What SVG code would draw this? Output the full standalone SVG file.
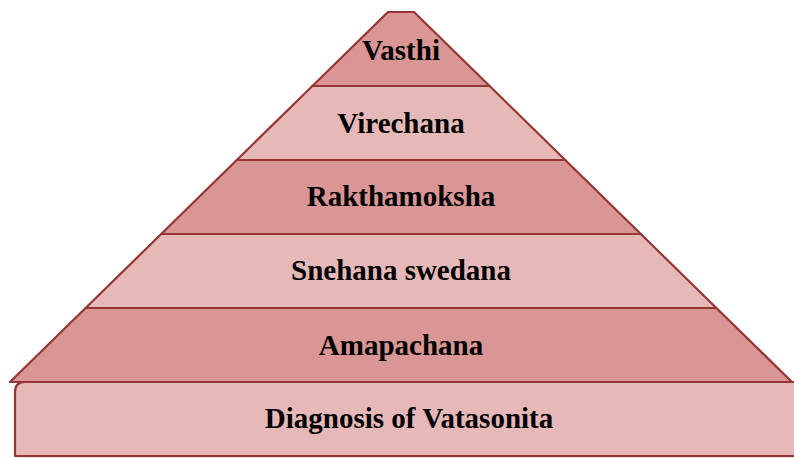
<svg xmlns="http://www.w3.org/2000/svg" width="794" height="458" viewBox="0 0 794 458">
<style>
.dark{fill:#D99694;stroke:#943634;stroke-width:2.2;stroke-linejoin:round}
.light{fill:#E6B9B8;stroke:#943634;stroke-width:2.2;stroke-linejoin:round}
text{font-family:"Liberation Serif","Times New Roman",serif;font-weight:bold;font-size:29px;fill:#000;text-anchor:middle}
</style>
<rect width="794" height="458" fill="#fff"/>
<g id="amapachana">
<polygon class="dark" points="85.6,308 716.4,308 792,382 10,382"/>
<text x="401" y="355">Amapachana</text>
</g>
<g id="snehana-swedana">
<polygon class="light" points="161.2,234 640.8,234 716.4,308 85.6,308"/>
<text x="401" y="280">Snehana swedana</text>
</g>
<g id="rakthamoksha">
<polygon class="dark" points="236.8,160 565.2,160 640.8,234 161.2,234"/>
<text x="401" y="206">Rakthamoksha</text>
</g>
<g id="virechana">
<polygon class="light" points="312.4,86 489.6,86 565.2,160 236.8,160"/>
<text x="401" y="133">Virechana</text>
</g>
<g id="vasthi">
<polygon class="dark" points="388,12 414,12 489.6,86 312.4,86"/>
<text x="401" y="60">Vasthi</text>
</g>
<g id="diagnosis">
<path d="M17,394 Q17,384 27,384 L807,384 L807,458 L17,458 Z" fill="#000" opacity="0.12"/>
<path class="light" d="M15,392 Q15,382 25,382 L805,382 L805,456 L15,456 Z"/>
<text x="409" y="428">Diagnosis of Vatasonita</text>
</g>
<g id="connectors"/>
</svg>
